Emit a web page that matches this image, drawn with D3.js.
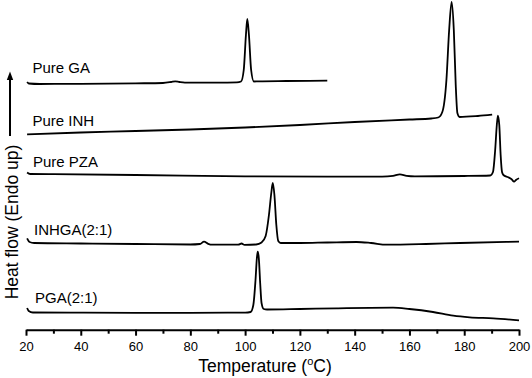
<!DOCTYPE html>
<html>
<head>
<meta charset="utf-8">
<script src="https://cdn.jsdelivr.net/npm/d3@7"></script>
<style>
  body { margin: 0; background: #fff; }
  svg { display: block; font-family: "Liberation Sans", Arial, sans-serif; }
  .lbl { font-size: 15px; fill: #000; }
  .tick text { font-size: 13px; fill: #000; }
</style>
</head>
<body>
<div id="chart"></div>
<script>
// DSC curves, temperature (C) vs heat flow (a.u., stacked)
const pureGA = [[20.4,24.8],[21,24.65],[25,24.6],[40,24.62],[60,24.67],[70,24.7],[73,24.8],[74.5,24.87],[76,24.8],[78,24.74],[90,24.74],[97,24.76],[98.5,24.85],[99.5,26.0],[100.3,29.5],[100.8,31.1],[101.4,29.5],[102.2,26.0],[103.2,24.85],[105,24.87],[115,24.9],[130,24.93]];
const pureINH = [[20.4,19.57],[40,19.75],[60,19.9],[80,20.05],[100,20.25],[120,20.5],[140,20.8],[160,21.05],[168,21.15],[170.5,21.25],[172,21.8],[173.5,25.0],[174.5,30.0],[175.4,32.8],[176.2,30.0],[176.9,24.5],[177.5,21.7],[178.3,21.3],[185,21.4],[190.2,21.53]];
const purePZA = [[20.4,15.75],[21.5,15.6],[30,15.58],[60,15.5],[100,15.37],[130,15.33],[150,15.34],[154,15.42],[156.5,15.57],[159,15.42],[162,15.37],[180,15.4],[189.5,15.45],[190.5,15.8],[191.3,18.0],[191.9,20.5],[192.3,21.43],[192.8,20.5],[193.3,17.5],[193.8,15.8],[194.3,15.5],[196.1,15.27],[197.3,15.07],[198.2,14.83],[198.9,15.0],[200,15.17]];
const inhga = [[20.4,9.17],[21.3,8.8],[23,8.7],[40,8.65],[60,8.6],[80,8.55],[83.5,8.6],[85,8.83],[86.5,8.62],[88,8.53],[97.5,8.53],[98.7,8.65],[99.8,8.52],[104,8.55],[106,8.75],[107.5,9.4],[108.7,11.5],[109.6,13.8],[110.1,14.7],[110.7,13.5],[111.4,10.5],[112.1,8.9],[113,8.7],[120,8.7],[130,8.75],[140.7,8.8],[146,8.7],[151.7,8.53],[166,8.6],[178.5,8.7],[200,8.83]];
const pga = [[20.4,2.2],[21,1.9],[22.5,1.75],[40,1.73],[60,1.72],[80,1.72],[100,1.74],[102,1.8],[103,2.5],[103.8,5.0],[104.3,7.2],[104.6,7.83],[105,7.2],[105.5,4.7],[106,2.7],[106.8,2.1],[108,2.05],[120,2.1],[133.4,2.17],[154,2.23],[160,2.1],[168.6,1.8],[176,1.43],[182,1.27],[190.6,1.17],[200,0.97]];

const seriesNames = ["Pure GA", "Pure INH", "Pure PZA", "INHGA(2:1)", "PGA(2:1)"];
const seriesData = [pureGA, pureINH, purePZA, inhga, pga];
const xTicks = [20, 40, 60, 80, 100, 120, 140, 160, 180, 200];
const xMinorTicks = [30, 50, 70, 90, 110, 130, 150, 170, 190];

const W = 532, H = 378;
const svg = d3.select('#chart').append('svg')
    .attr('width', W)
    .attr('height', H);

const x = d3.scaleLinear().domain([20, 200]).range([26, 519]);
const y = d3.scaleLinear().domain([0, 33]).range([330, 0]);

const line = d3.line()
    .x(d => x(d[0]))
    .y(d => y(d[1]))
    .curve(d3.curveMonotoneX);

svg.selectAll('path.curve')
    .data(seriesData)
    .enter()
    .append('path')
    .attr('class', 'curve')
    .attr('d', line)
    .attr('fill', 'none')
    .attr('stroke', '#000')
    .attr('stroke-width', 1.8)
    .attr('stroke-linejoin', 'round');

// curve labels sit just above each trace's start
let labelX = [32.5, 32.5, 33, 34, 35];
let labelY = [73, 126, 167, 235, 303];
svg.selectAll('text.lbl')
    .data(seriesNames)
    .enter()
    .append('text')
    .attr('class', 'lbl')
    .attr('x', (d, i) => labelX[i])
    .attr('y', (d, i) => labelY[i])
    .text(d => d);

// x axis
const axisY = 329.7;
const gx = svg.append('g')
    .attr('transform', 'translate(0,' + axisY + ')')
    .call(d3.axisBottom(x).tickValues(xTicks).tickSizeInner(6).tickSizeOuter(0).tickPadding(6));
gx.select('.domain').attr('stroke-width', 2).attr('stroke', '#000');
gx.selectAll('.tick line').attr('stroke-width', 2).attr('stroke', '#000');
gx.selectAll('.tick text').attr('font-family', '"Liberation Sans", Arial, sans-serif');

const gxm = svg.append('g')
    .attr('transform', 'translate(0,' + axisY + ')')
    .call(d3.axisBottom(x).tickValues(xMinorTicks).tickSize(4).tickFormat(''));
gxm.select('.domain').remove();
gxm.selectAll('.tick line').attr('stroke-width', 2).attr('stroke', '#000');

// x title
const xt = svg.append('text')
    .attr('x', 265)
    .attr('y', 372)
    .attr('text-anchor', 'middle')
    .attr('font-size', 17.5)
    .attr('fill', '#000');
xt.append('tspan').text('Temperature (');
xt.append('tspan').attr('font-size', 11).attr('dy', -7).text('o');
xt.append('tspan').attr('dy', 7).text('C)');

// y title + endo-up arrow
svg.append('text')
    .attr('transform', 'translate(18,222) rotate(-90)')
    .attr('text-anchor', 'middle')
    .attr('font-size', 17.5)
    .attr('fill', '#000')
    .text('Heat flow (Endo up)');

svg.append('line')
    .attr('x1', 10).attr('x2', 10)
    .attr('y1', 136).attr('y2', 78)
    .attr('stroke', '#000')
    .attr('stroke-width', 2);
svg.append('path')
    .attr('d', 'M10,71.5L13.2,80L6.8,80Z')
    .attr('fill', '#000');
</script>
</body>
</html>
